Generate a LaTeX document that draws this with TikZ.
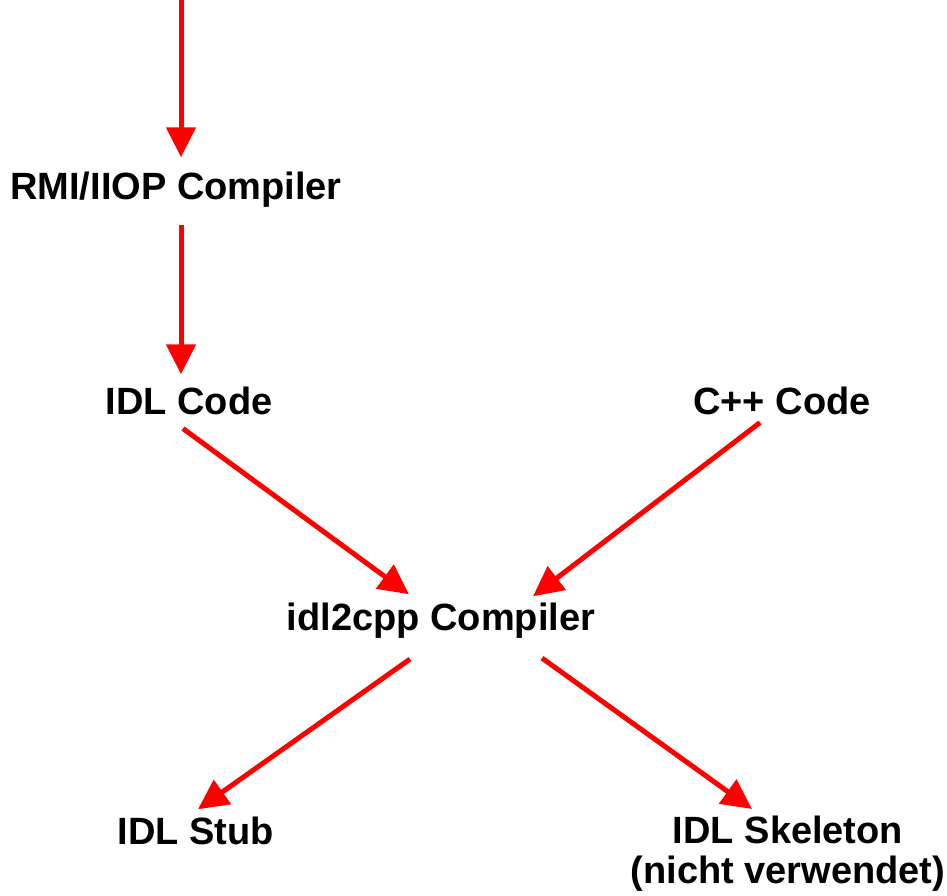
\documentclass[tikz,border=0pt]{standalone}
\usepackage{fontspec}
\setmainfont{Liberation Sans}
\usetikzlibrary{arrows.meta, positioning, calc}
\definecolor{flowred}{RGB}{255, 0, 0}

\begin{document}
\begin{tikzpicture}[
        x=1pt, y=1pt,
        label/.style={inner sep=0pt, font=\fontsize{38}{40}\selectfont\bfseries, align=center},
        flow/.style={draw=flowred, line width=5pt, -{Triangle[length=30pt, width=29pt]}},
    ]
        \useasboundingbox (0,0) rectangle (947,895);

        % Texts
        \node[label, anchor=base] (rmi) at (176, 695) {RMI/IIOP Compiler};
        \node[label, anchor=base] (idl) at (189, 480) {IDL Code};
        \node[label, anchor=base] (cpp) at (782, 480) {C++ Code};
        \node[label, anchor=base] (comp) at (441, 265) {idl2cpp Compiler};
        \node[label, anchor=base] (stub) at (196, 51) {IDL Stub};
        \node[label, anchor=north] (skel) at (788, 79) {IDL Skeleton\\(nicht verwendet)};

        \coordinate (src) at (181, 895);

        % Arrows
        \draw[flow, shorten >=15pt] (src) -- (src |- rmi.north);
        \draw[flow, shorten <=17pt, shorten >=13pt] ([xshift=5pt]rmi.south) -- ([xshift=-8pt]idl.north);
        \draw[flow] ([shift={(-6pt,-13pt)}]idl.south) -- ([shift={(-32pt,8pt)}]comp.north);
        \draw[flow] ([shift={(-22pt,-7pt)}]cpp.south) -- ([shift={(92pt,6pt)}]comp.north);
        \draw[flow] ([shift={(-31pt,-21pt)}]comp.south) -- ([shift={(2pt,7pt)}]stub.north);
        \draw[flow] ([shift={(101pt,-20pt)}]comp.south) -- ([shift={(-36pt,7pt)}]skel.north);
    \end{tikzpicture}
\end{document}
